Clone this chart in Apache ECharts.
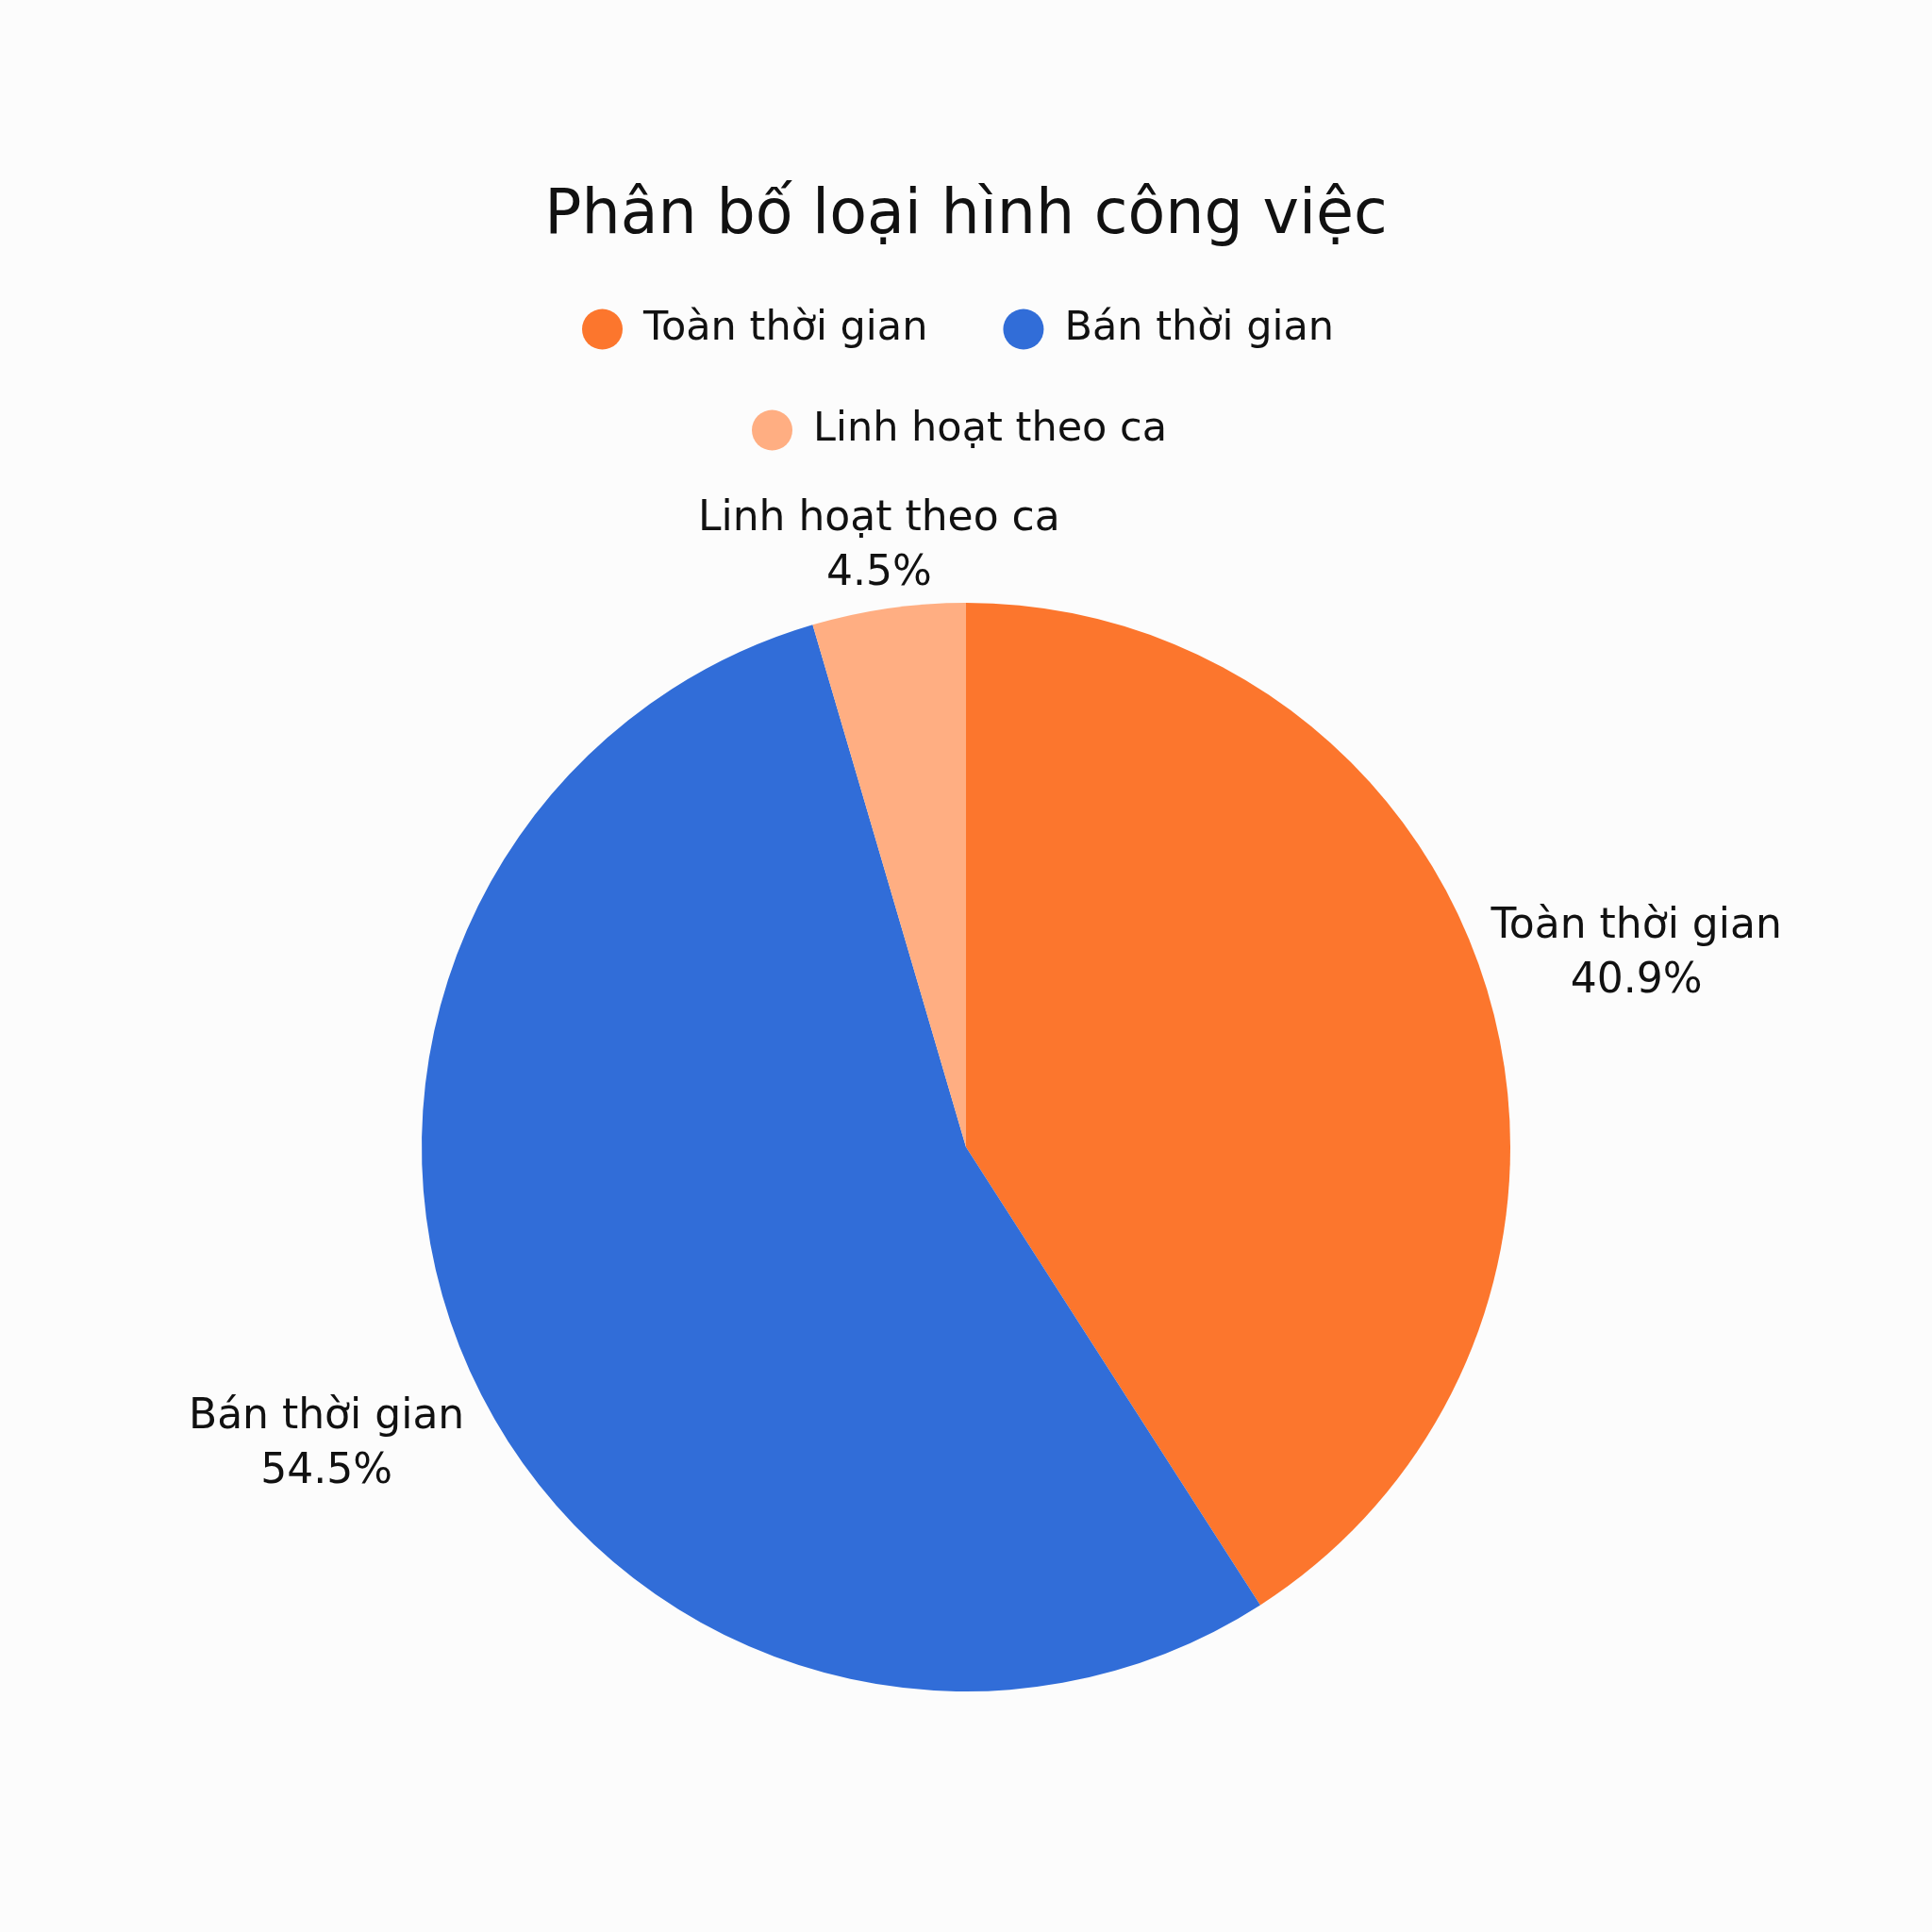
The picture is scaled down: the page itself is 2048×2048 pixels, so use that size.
<!DOCTYPE html>
<html>
<head>
<meta charset="utf-8">
<script src="https://cdn.jsdelivr.net/npm/echarts@6/dist/echarts.min.js"></script>
<style>
html,body{margin:0;padding:0;background:#fcfcfc;}
#chart{width:2048px;height:2048px;}
</style>
</head>
<body>
<div id="chart"></div>
<script>
// ---- data ----
var titleText = 'Phân bố loại hình công việc';
var categories = ['Toàn thời gian', 'Bán thời gian', 'Linh hoạt theo ca'];
var counts = [9, 12, 1];
var colors = ['#FC762D', '#316DD8', '#FFAE82'];

// ---- layout / style ----
var FONT = 'DejaVu Sans';
var labelAnchors = [[0.847, 0.494], [0.169, 0.748], [0.455, 0.283]]; // label centers as fraction of chart size

var chart = echarts.init(document.getElementById('chart'), null, {renderer: 'canvas'});
var W = 2048, H = 2048;

var seriesData = categories.map(function (c, i) {
  return {name: c, value: counts[i], itemStyle: {color: colors[i]}};
});

var legendText = {fontFamily: FONT, fontSize: 43, color: '#111', padding: [0, 0, 0, 17], lineHeight: 46};

var option = {
  backgroundColor: '#fcfcfc',
  animation: false,
  title: {
    text: titleText,
    left: 'center',
    top: 193,
    textStyle: {fontFamily: FONT, fontSize: 65, fontWeight: 'normal', color: '#111'}
  },
  legend: [
    {
      data: categories.slice(0, 2),
      orient: 'horizontal',
      left: 617,
      top: 326,
      padding: 0,
      icon: 'circle',
      itemWidth: 43,
      itemHeight: 43,
      itemGap: 80,
      selectedMode: false,
      textStyle: legendText
    },
    {
      data: categories.slice(2),
      orient: 'horizontal',
      left: 797,
      top: 433,
      padding: 0,
      icon: 'circle',
      itemWidth: 43,
      itemHeight: 43,
      itemGap: 80,
      selectedMode: false,
      textStyle: legendText
    }
  ],
  series: [{
    type: 'pie',
    center: ['50%', 1216],
    radius: 577,
    startAngle: 90,
    clockwise: true,
    silent: true,
    data: seriesData,
    label: {
      show: true,
      position: 'outside',
      formatter: function (p) { return p.name + '\n' + p.percent.toFixed(1) + '%'; },
      fontFamily: FONT,
      fontSize: 44,
      lineHeight: 58,
      color: '#111'
    },
    labelLine: {show: false},
    labelLayout: function (params) {
      var a = labelAnchors[params.dataIndex];
      return {x: a[0] * W, y: a[1] * H, align: 'center', verticalAlign: 'middle', hideOverlap: false};
    },
    emphasis: {disabled: true}
  }]
};
chart.setOption(option);
</script>
</body>
</html>
